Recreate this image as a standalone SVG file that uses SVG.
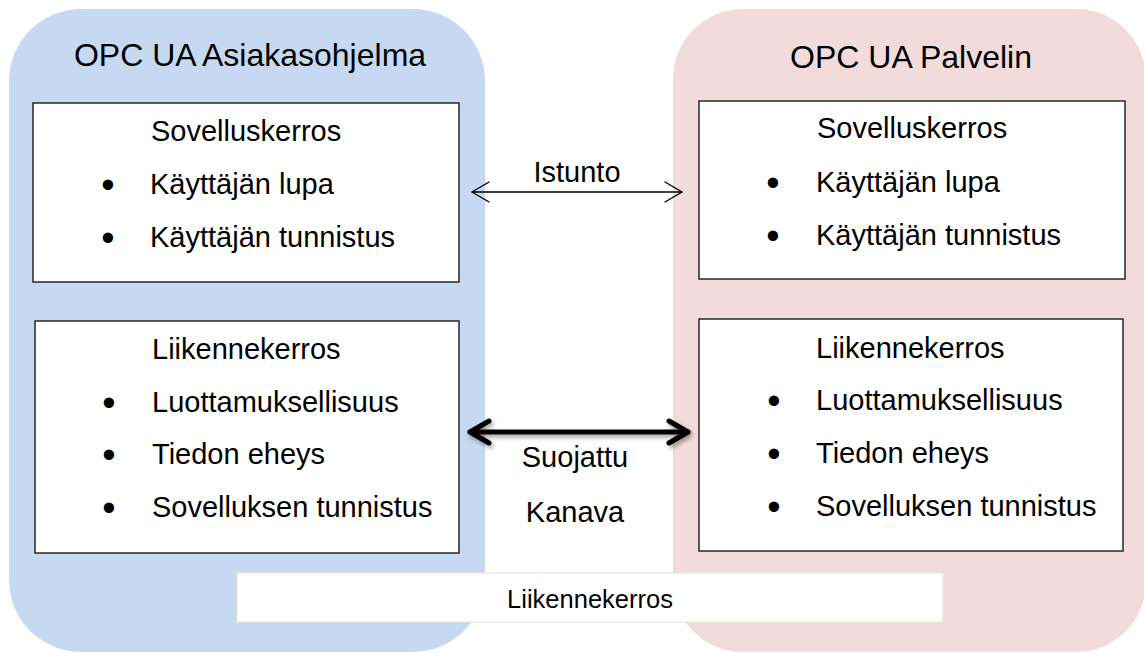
<svg xmlns="http://www.w3.org/2000/svg" width="1144" height="653" viewBox="0 0 1144 653">
  <style>
    text { font-family: "Liberation Sans", Arial, sans-serif; fill: #000; }
    .title { font-size: 32px; }
    .body { font-size: 29px; }
    .small { font-size: 25.5px; }
    .bullet { font-size: 38px; text-anchor: middle; }
    .layer { fill: #ffffff; stroke: #1a1a1a; stroke-width: 1.4; }
    .thin { fill: none; stroke: #000; stroke-width: 1.4; stroke-linecap: round; stroke-linejoin: round; }
    .thick { fill: none; stroke: #000; stroke-width: 5; stroke-linecap: round; stroke-linejoin: round; }
  </style>
  <defs>
    <filter id="soft" x="-10%" y="-100%" width="120%" height="300%">
      <feDropShadow dx="2" dy="3" stdDeviation="2" flood-color="#000" flood-opacity="0.35"/>
    </filter>
  </defs>

  <rect width="1144" height="653" fill="#ffffff"/>

  <!-- client side -->
  <g id="client">
    <rect x="9" y="9" width="476" height="643" rx="72" ry="72" fill="#c6d9f1"/>
    <text class="title" x="250" y="66" text-anchor="middle">OPC UA Asiakasohjelma</text>
  </g>

  <!-- server side -->
  <g id="server">
    <rect x="673" y="9" width="473" height="643" rx="70" ry="70" fill="#f2dcdb"/>
    <text class="title" x="911" y="68" text-anchor="middle">OPC UA Palvelin</text>
  </g>

  <!-- client application layer -->
  <g id="client-app">
    <rect class="layer" x="33" y="103" width="426" height="179"/>
    <text class="body" x="151" y="141">Sovelluskerros</text>
    <text class="bullet" x="108" y="198">•</text>
    <text class="body" x="150" y="194">Käyttäjän lupa</text>
    <text class="bullet" x="108" y="251">•</text>
    <text class="body" x="150" y="247">Käyttäjän tunnistus</text>
  </g>

  <!-- client transport layer -->
  <g id="client-transport">
    <rect class="layer" x="35" y="321" width="424" height="232"/>
    <text class="body" x="152" y="359">Liikennekerros</text>
    <text class="bullet" x="109" y="416">•</text>
    <text class="body" x="152" y="412">Luottamuksellisuus</text>
    <text class="bullet" x="109" y="468">•</text>
    <text class="body" x="152" y="464">Tiedon eheys</text>
    <text class="bullet" x="109" y="521">•</text>
    <text class="body" x="152" y="517">Sovelluksen tunnistus</text>
  </g>

  <!-- server application layer -->
  <g id="server-app">
    <rect class="layer" x="699" y="101" width="426" height="178"/>
    <text class="body" x="817" y="138">Sovelluskerros</text>
    <text class="bullet" x="773" y="196">•</text>
    <text class="body" x="816" y="192">Käyttäjän lupa</text>
    <text class="bullet" x="773" y="249">•</text>
    <text class="body" x="816" y="245">Käyttäjän tunnistus</text>
  </g>

  <!-- server transport layer -->
  <g id="server-transport">
    <rect class="layer" x="699" y="319" width="424" height="232"/>
    <text class="body" x="816" y="358">Liikennekerros</text>
    <text class="bullet" x="774" y="414">•</text>
    <text class="body" x="816" y="410">Luottamuksellisuus</text>
    <text class="bullet" x="774" y="467">•</text>
    <text class="body" x="816" y="463">Tiedon eheys</text>
    <text class="bullet" x="774" y="520">•</text>
    <text class="body" x="816" y="516">Sovelluksen tunnistus</text>
  </g>

  <!-- shared transport bar -->
  <g id="transport-bar">
    <rect x="237" y="573" width="706" height="49" fill="#ffffff" stroke="#e4ead8" stroke-width="1.2"/>
    <text class="small" x="590" y="608" text-anchor="middle">Liikennekerros</text>
  </g>

  <!-- connectors -->
  <g id="connectors">
    <g id="session">
      <path class="thin" d="M472 192 H682"/>
      <path class="thin" d="M489 182 L472 192 L489 202"/>
      <path class="thin" d="M665 182 L682 192 L665 202"/>
    </g>
    <g id="secure-channel" filter="url(#soft)">
      <path class="thick" d="M470 432 H688"/>
      <path class="thick" d="M489 421 L470 432 L489 443"/>
      <path class="thick" d="M669 421 L688 432 L669 443"/>
    </g>
    <text class="body" x="577" y="182" text-anchor="middle">Istunto</text>
    <text class="body" x="575" y="467" text-anchor="middle">Suojattu</text>
    <text class="body" x="575" y="522" text-anchor="middle">Kanava</text>
  </g>
</svg>
